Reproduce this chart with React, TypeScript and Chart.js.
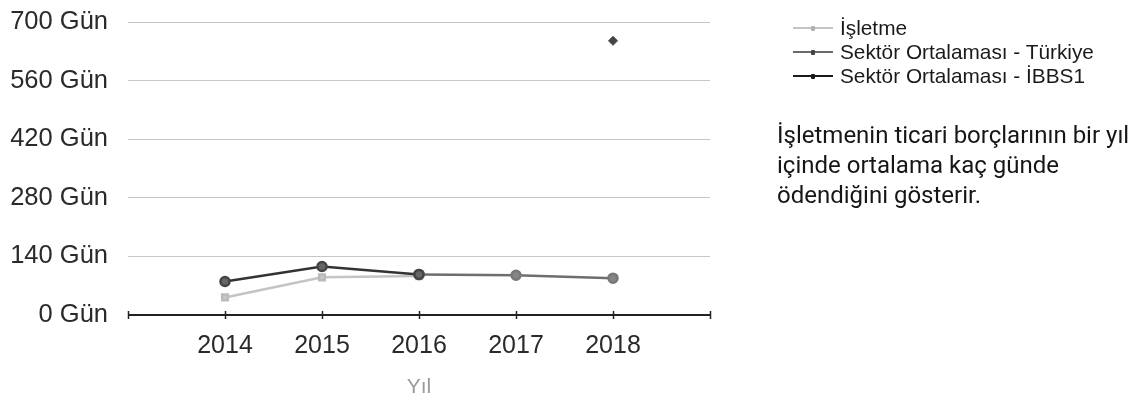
import React, { useEffect, useRef } from "react";
import { Chart, registerables } from "chart.js";

Chart.register(...registerables);

const years = [2014, 2015, 2016, 2017, 2018];
const isletme = [42, 90, 93, null, null];
const turkiye = [null, null, 97, 95, 88];
const ibbs1 = [80, 116, 97, null, null];
const extraYears = [2018];
const extraValues = [655];
const yTicks = [0, 140, 280, 420, 560, 700];
const legendLabels = ["İşletme", "Sektör Ortalaması - Türkiye", "Sektör Ortalaması - İBBS1"];
const noteLines = ["İşletmenin ticari borçlarının bir yıl", "içinde ortalama kaç günde", "ödendiğini gösterir."];

const pts = (vals: (number | null)[]) => years.map((x, i) => ({ x, y: vals[i] }));

export default function App() {
  const ref = useRef<HTMLCanvasElement | null>(null);
  useEffect(() => {
    if (!ref.current) return;
    const axisPlugin = {
      id: "axisCross",
      afterDraw(chart: any) {
        const ctx = chart.ctx;
        const xs = chart.scales.x;
        const y0 = chart.scales.y.getPixelForValue(0);
        ctx.save();
        ctx.strokeStyle = "#222";
        ctx.lineWidth = 2;
        ctx.beginPath();
        ctx.moveTo(xs.getPixelForValue(2013), y0);
        ctx.lineTo(xs.getPixelForValue(2019), y0);
        ctx.stroke();
        ctx.lineWidth = 1.5;
        [2013, ...years, 2019].forEach((v) => {
          const px = Math.round(xs.getPixelForValue(v)) + 0.5;
          ctx.beginPath();
          ctx.moveTo(px, y0 - 4);
          ctx.lineTo(px, y0 + 4);
          ctx.stroke();
        });
        ctx.restore();
      },
    };
    const chart = new Chart(ref.current, {
      type: "line",
      data: {
        datasets: [
          {
            label: legendLabels[2],
            data: pts(ibbs1),
            borderColor: "#333",
            backgroundColor: "#666",
            pointBorderColor: "#444",
            borderWidth: 2.5,
            pointRadius: 4.5,
            pointStyle: "circle",
          },
          {
            label: legendLabels[1],
            data: pts(turkiye),
            borderColor: "#6e6e6e",
            backgroundColor: "#858585",
            pointBorderColor: "#777",
            borderWidth: 2.5,
            pointRadius: 4.5,
            pointStyle: "circle",
          },
          {
            label: legendLabels[0],
            data: pts(isletme),
            borderColor: "#c4c4c4",
            backgroundColor: "#c8c8c8",
            pointBorderColor: "#bbb",
            borderWidth: 2.5,
            pointRadius: 4,
            pointStyle: "rect",
          },
          {
            label: "extra",
            data: extraYears.map((x, i) => ({ x, y: extraValues[i] })),
            showLine: false,
            borderColor: "#444",
            backgroundColor: "#444",
            pointRadius: 4.5,
            pointStyle: "rectRot",
          },
        ],
      },
      options: {
        animation: false,
        responsive: false,
        spanGaps: false,
        layout: { padding: { left: 0, right: 433, top: 22, bottom: 0 } },
        plugins: { legend: { display: false }, tooltip: { enabled: false } },
        scales: {
          x: {
            type: "linear",
            min: 2013,
            max: 2019,
            afterBuildTicks: (s: any) => {
              s.ticks = [2013, ...years, 2019].map((v) => ({ value: v }));
            },
            afterFit: (s: any) => {
              s.height = 85;
              s.paddingLeft = 0;
              s.paddingRight = 0;
            },
            ticks: {
              callback: (v: any) => (years.includes(Number(v)) ? String(v) : ""),
              font: { family: "'Liberation Sans', Arial", size: 25 },
              color: "#2a2a2a",
              padding: 16,
              maxRotation: 0,
              autoSkip: false,
            },
            grid: { display: false, drawTicks: false },
            border: { display: false },
            title: {
              display: true,
              text: "Yıl",
              color: "#9a9a9a",
              font: { family: "'Liberation Sans', Arial", size: 21 },
              padding: { top: 4, bottom: 0 },
            },
          },
          y: {
            min: 0,
            max: 700,
            afterBuildTicks: (s: any) => {
              s.ticks = yTicks.map((v) => ({ value: v }));
            },
            afterFit: (s: any) => {
              s.width = 128;
              s.paddingTop = 0;
              s.paddingBottom = 0;
            },
            ticks: {
              callback: (v: any) => `${v} Gün`,
              font: { family: "'Liberation Sans', Arial", size: 25.5 },
              color: "#2a2a2a",
              padding: 20,
            },
            grid: { color: "#c6c6c6", lineWidth: 1, drawTicks: false },
            border: { display: false },
          },
        },
      },
      plugins: [axisPlugin],
    } as any);
    return () => chart.destroy();
  }, []);

  const legendStyles = [
    { color: "#c4c4c4", marker: "#b0b0b0" },
    { color: "#6a6a6a", marker: "#444" },
    { color: "#1a1a1a", marker: "#1a1a1a" },
  ];

  return (
    <div style={{ position: "absolute", left: 0, top: 0, width: 1143, height: 400, background: "#fff" }}>
      <canvas ref={ref} width={1143} height={400} style={{ position: "absolute", left: 0, top: 0 }} />
      <div style={{ position: "absolute", left: 793, top: 16, fontFamily: "'Liberation Sans', Arial", fontSize: 20.8, color: "#1a1a1a" }}>
        {legendLabels.map((l, i) => (
          <div key={l} style={{ display: "flex", alignItems: "center", height: 24, whiteSpace: "nowrap" }}>
            <span style={{ position: "relative", width: 40, height: 2, background: legendStyles[i].color, marginRight: 7 }}>
              <span style={{ position: "absolute", left: 18, top: -1.5, width: 4, height: 5, borderRadius: 1, background: legendStyles[i].marker }} />
            </span>
            <span>{l}</span>
          </div>
        ))}
      </div>
      <div style={{ position: "absolute", left: 777, top: 120, fontFamily: "Roboto, 'Liberation Sans'", fontSize: 24, lineHeight: "30px", color: "#161616", whiteSpace: "nowrap" }}>
        {noteLines.map((t) => (
          <div key={t}>{t}</div>
        ))}
      </div>
    </div>
  );
}
